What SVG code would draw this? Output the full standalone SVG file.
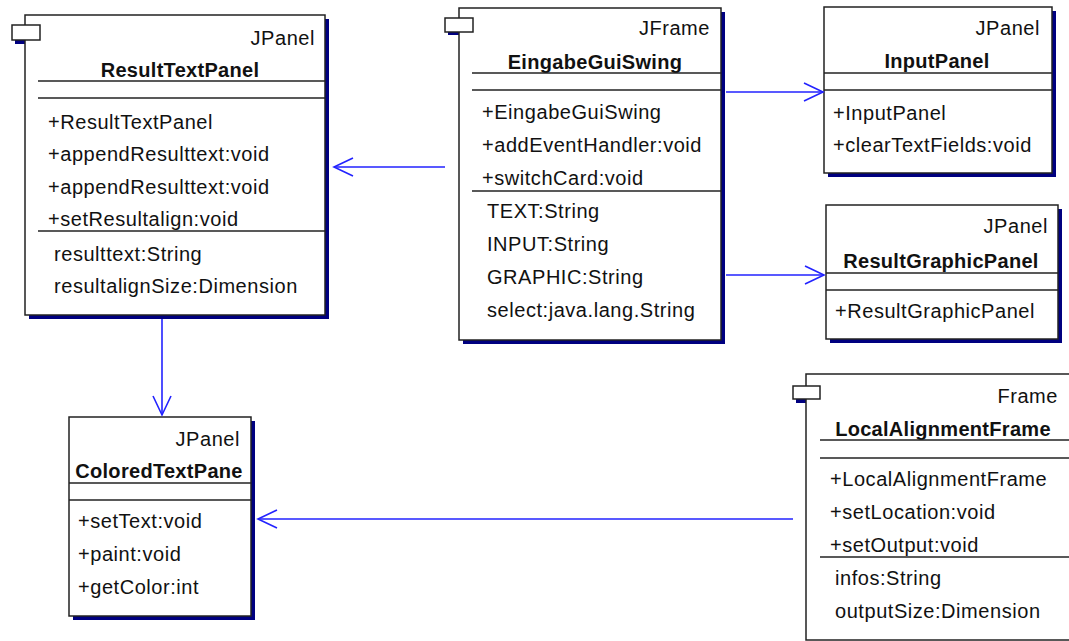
<svg xmlns="http://www.w3.org/2000/svg" width="1069" height="641" viewBox="0 0 1069 641">
<defs>
<style>
.box{fill:#fff;stroke:#222;stroke-width:1.5}
.sh{fill:#000080}
.sep{stroke:#222;stroke-width:1.5}
text{font-family:"Liberation Sans",Arial,sans-serif;font-size:20px;fill:#111;letter-spacing:0.55px}
.st{text-anchor:end}
.nm{text-anchor:middle;font-weight:bold;letter-spacing:0.3px}
.con{stroke:#2222ff;stroke-width:1.6;fill:none;marker-end:url(#open)}
</style>
<marker id="open" markerUnits="userSpaceOnUse" markerWidth="22" markerHeight="22" viewBox="0 0 22 22" refX="20" refY="11" orient="auto">
<path d="M1,2 L20,11 L1,20" fill="none" stroke="#2222ff" stroke-width="1.6"/>
</marker>
</defs>
<rect width="1069" height="641" fill="#fff"/>

<g id="ResultTextPanel">
<rect class="sh" x="29" y="19" width="300" height="300"/>
<rect class="sh" x="15" y="29" width="28" height="15"/>
<rect class="box" x="25" y="15" width="300" height="300"/>
<rect class="box" x="12" y="25" width="28" height="15"/>
<text class="st" x="315" y="45">JPanel</text>
<text class="nm" x="180" y="77">ResultTextPanel</text>
<line class="sep" x1="38" y1="81" x2="325" y2="81"/>
<line class="sep" x1="38" y1="98" x2="325" y2="98"/>
<text x="48" y="128.5">+ResultTextPanel</text>
<text x="48" y="161">+appendResulttext:void</text>
<text x="48" y="193.5">+appendResulttext:void</text>
<text x="48" y="226">+setResultalign:void</text>
<line class="sep" x1="38" y1="231" x2="325" y2="231"/>
<text x="54" y="260.5">resulttext:String</text>
<text x="54" y="293">resultalignSize:Dimension</text>
</g>

<g id="EingabeGuiSwing">
<rect class="sh" x="463" y="12" width="262" height="332"/>
<rect class="sh" x="448" y="21" width="28" height="14"/>
<rect class="box" x="459" y="8" width="262" height="332"/>
<rect class="box" x="445" y="18" width="28" height="14"/>
<text class="st" x="710" y="35">JFrame</text>
<text class="nm" x="595" y="69">EingabeGuiSwing</text>
<line class="sep" x1="472" y1="73" x2="721" y2="73"/>
<line class="sep" x1="472" y1="90" x2="721" y2="90"/>
<text x="482" y="119">+EingabeGuiSwing</text>
<text x="482" y="152">+addEventHandler:void</text>
<text x="482" y="185">+switchCard:void</text>
<line class="sep" x1="472" y1="191" x2="721" y2="191"/>
<text x="487" y="218">TEXT:String</text>
<text x="487" y="251">INPUT:String</text>
<text x="487" y="284">GRAPHIC:String</text>
<text x="487" y="317">select:java.lang.String</text>
</g>

<g id="InputPanel">
<rect class="sh" x="828" y="11" width="228" height="166"/>
<rect class="box" x="824" y="7" width="228" height="166"/>
<text class="st" x="1040" y="35">JPanel</text>
<text class="nm" x="937" y="68">InputPanel</text>
<line class="sep" x1="824" y1="73" x2="1052" y2="73"/>
<line class="sep" x1="824" y1="90" x2="1052" y2="90"/>
<text x="833" y="120">+InputPanel</text>
<text x="833" y="152">+clearTextFields:void</text>
</g>

<g id="ResultGraphicPanel">
<rect class="sh" x="830" y="209" width="232" height="134"/>
<rect class="box" x="826" y="205" width="232" height="134"/>
<text class="st" x="1048" y="233">JPanel</text>
<text class="nm" x="941" y="268">ResultGraphicPanel</text>
<line class="sep" x1="826" y1="273" x2="1058" y2="273"/>
<line class="sep" x1="826" y1="290" x2="1058" y2="290"/>
<text x="835" y="318">+ResultGraphicPanel</text>
</g>

<g id="ColoredTextPane">
<rect class="sh" x="73" y="421" width="182" height="199"/>
<rect class="box" x="69" y="417" width="182" height="199"/>
<text class="st" x="240" y="446">JPanel</text>
<text class="nm" x="159" y="478">ColoredTextPane</text>
<line class="sep" x1="69" y1="483" x2="251" y2="483"/>
<line class="sep" x1="69" y1="500" x2="251" y2="500"/>
<text x="78" y="528">+setText:void</text>
<text x="78" y="561">+paint:void</text>
<text x="78" y="594">+getColor:int</text>
</g>

<g id="LocalAlignmentFrame">
<rect class="sh" x="796" y="390" width="27" height="13"/>
<rect class="box" x="806" y="374" width="274" height="266"/>
<rect class="box" x="793" y="386" width="27" height="13"/>
<text class="st" x="1058" y="403">Frame</text>
<text class="nm" x="943" y="436">LocalAlignmentFrame</text>
<line class="sep" x1="820" y1="440" x2="1080" y2="440"/>
<line class="sep" x1="820" y1="458" x2="1080" y2="458"/>
<text x="830" y="486">+LocalAlignmentFrame</text>
<text x="830" y="519">+setLocation:void</text>
<text x="830" y="552">+setOutput:void</text>
<line class="sep" x1="820" y1="557" x2="1080" y2="557"/>
<text x="835" y="585">infos:String</text>
<text x="835" y="618">outputSize:Dimension</text>
</g>

<g id="connectors">
<line class="con" x1="445" y1="167" x2="334" y2="167"/>
<line class="con" x1="726" y1="92" x2="823" y2="92"/>
<line class="con" x1="726" y1="275" x2="824" y2="275"/>
<line class="con" x1="162" y1="319" x2="162" y2="415"/>
<line class="con" x1="793" y1="519" x2="258" y2="519"/>
</g>
</svg>
